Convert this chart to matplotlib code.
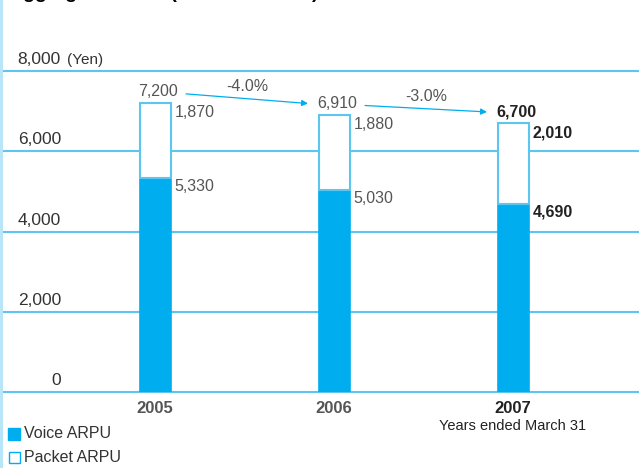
import matplotlib.pyplot as plt
from matplotlib.patches import Rectangle

years = ["2005", "2006", "2007"]
voice = [5330, 5030, 4690]
packet = [1870, 1880, 2010]
totals = [7200, 6910, 6700]
changes = ["-4.0%", "-3.0%"]
y_ticks = [0, 2000, 4000, 6000, 8000]
y_tick_labels = ["0", "2,000", "4,000", "6,000", "8,000"]

CYAN = "#00aeef"
GRID = "#5cc6f0"
STRIP = "#b9e5f8"
GREY = "#555555"
DARK = "#222222"
FONT = ["Liberation Sans", "DejaVu Sans"]

W, H = 639, 468
fig = plt.figure(figsize=(W / 100, H / 100), dpi=100)

# axes: 0 at y=392px, 8000 at y=71px, x from 3px to right edge
ax = fig.add_axes([3 / W, (H - 392) / H, 636 / W, (392 - 71) / H])
ax.set_ylim(0, 8000)
px = 179.0  # pixels per category
ax.set_xlim(-(155 - 3) / px, 2 + (639 - 513) / px)
ax.axis("off")

for t in y_ticks:
    ax.axhline(t, color=GRID, lw=1.5, zorder=1, clip_on=False)

x = list(range(len(years)))
bw = 31 / px
ax.bar(x, voice, width=bw, color=CYAN, edgecolor=CYAN, lw=1.2, zorder=2)
ax.bar(x, packet, bottom=voice, width=bw, color="white", edgecolor=GRID, lw=1.5, zorder=2)

dy = 8000 / (392 - 71)  # data units per pixel
dx = 1 / px
for i in x:
    last = i == len(years) - 1
    col = DARK if last else GREY
    fw = "bold" if last else "normal"
    ax.text(i + 3 * dx, totals[i] + 4 * dy, f"{totals[i]:,}", ha="center", va="bottom",
            fontsize=11.5, color=col, fontweight=fw, family=FONT)
    ax.text(i + bw / 2 + 4 * dx, totals[i] - 2 * dy, f"{packet[i]:,}", ha="left", va="top",
            fontsize=11.5, color=col, fontweight=fw, family=FONT)
    ax.text(i + bw / 2 + 4 * dx, voice[i] - 1 * dy, f"{voice[i]:,}", ha="left", va="top",
            fontsize=11.5, color=col, fontweight=fw, family=FONT)
    ax.text(i, -9 * dy, years[i], ha="center", va="top", fontsize=12,
            color=DARK if last else GREY, fontweight="bold", family=FONT)

# change arrows between totals
for i, lab in enumerate(changes):
    x0, y0 = i + 31 * dx, totals[i] + 230
    x1, y1 = i + 1 - 26 * dx, totals[i + 1] + 280
    ax.annotate("", xy=(x1, y1), xytext=(x0, y0),
                arrowprops=dict(arrowstyle="-|>", color=CYAN, lw=0.9,
                                mutation_scale=9, shrinkA=0, shrinkB=0))
    ax.text((x0 + x1) / 2, (y0 + y1) / 2 + 5 * dy, lab, ha="center", va="bottom",
            fontsize=11.5, color=GREY, family=FONT)

ax.text(2, -27 * dy, "Years ended March 31", ha="center", va="top", fontsize=10.5,
        color=DARK, family=FONT)

# y tick labels sit above the grid lines
tx = 61 / W
for t, lab in zip(y_ticks, y_tick_labels):
    yy = (H - 392 + t / dy) / H + 4 / H
    fig.text(tx, yy, lab, ha="right", va="bottom", fontsize=12.5, color="#333333",
             family=FONT)
fig.text(67 / W, (H - 71) / H + 4 / H, "(Yen)", ha="left", va="bottom", fontsize=11,
         color="#333333", family=FONT)

# legend
fig.patches.append(Rectangle((8 / W, (H - 440) / H), 12 / W, 12 / H, transform=fig.transFigure,
                             facecolor=CYAN, edgecolor=CYAN, lw=1))
fig.patches.append(Rectangle((8.5 / W, (H - 463) / H), 11 / W, 11 / H, transform=fig.transFigure,
                             facecolor="white", edgecolor=CYAN, lw=1))
fig.text(24 / W, (H - 434) / H, "Voice ARPU", ha="left", va="center", fontsize=11.5,
         color="#333333", family=FONT)
fig.text(24 / W, (H - 457) / H, "Packet ARPU", ha="left", va="center", fontsize=11.5,
         color="#333333", family=FONT)

# left strip and heading cut off by the top edge (only descenders show)
fig.patches.append(Rectangle((0, 0), 3 / W, 1, transform=fig.transFigure,
                             facecolor=STRIP, edgecolor="none"))
fig.text(9 / W, 1 + 2 / H, "Aggregate ARPU (Voice + Packet)", ha="left", va="baseline",
         fontsize=14, fontweight="bold", color="black", family=FONT)

fig.savefig("out.png", dpi=100)
